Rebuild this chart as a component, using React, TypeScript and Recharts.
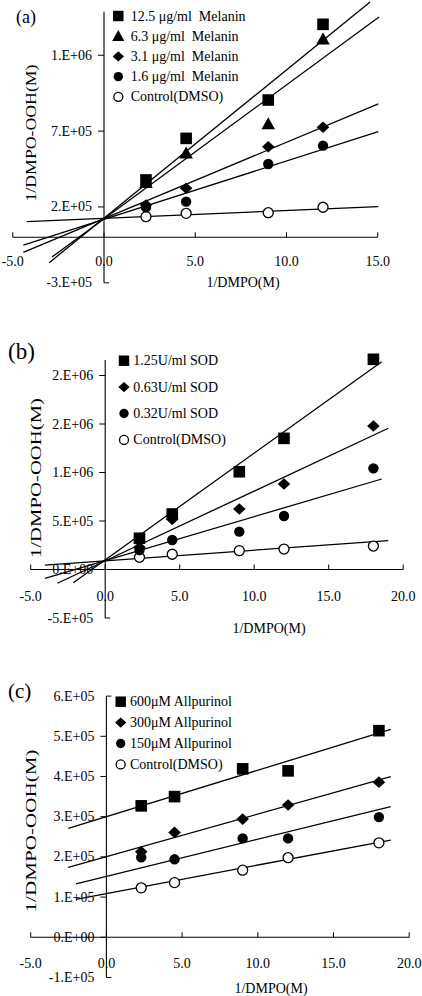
import React from 'react'
import { ComposedChart, XAxis, YAxis, Scatter, Line, ReferenceLine } from 'recharts'

const W = 422
const SERIF = '"Liberation Serif", "Times New Roman", Times, serif'
// room the (invisible) axes take; the drawn axes cross at zero instead
const AXIS_W = 8
const AXIS_H = 8

// ---------- (a) melanin ----------
const dmpoA = [2.3, 4.5, 9.0, 12.0]
const melanin125 = [0.378e6, 0.652e6, 0.905e6, 1.404e6]
const melanin63 = [0.36e6, 0.554e6, 0.747e6, 1.305e6]
const melanin31 = [0.213e6, 0.323e6, 0.597e6, 0.725e6]
const melanin16 = [0.198e6, 0.235e6, 0.483e6, 0.604e6]
const controlA = [0.136e6, 0.158e6, 0.162e6, 0.198e6]
const namesA = ['12.5 μg/ml  Melanin', '6.3 μg/ml  Melanin', '3.1 μg/ml  Melanin', '1.6 μg/ml  Melanin', 'Control(DMSO)']
// fit lines, end points
const fitA: number[][][] = [
  [[-3.0, -0.167e6], [14.58, 1.551e6]],
  [[-2.85, -0.13e6], [15.07, 1.452e6]],
  [[-4.42, -0.099e6], [15.03, 0.879e6]],
  [[-4.42, -0.051e6], [15.03, 0.696e6]],
  [[-4.24, 0.103e6], [15.03, 0.202e6]],
]
const xTicksA = [-5, 0, 5, 10, 15]
const yTicksA = [-3e5, 2e5, 7e5, 1.2e6]

// ---------- (b) SOD ----------
const dmpoB = [2.3, 4.5, 9.0, 12.0, 18.0]
const sod125 = [0.322e6, 0.572e6, 1.008e6, 1.352e6, 2.167e6]
const sod063 = [0.23e6, 0.517e6, 0.624e6, 0.881e6, 1.479e6]
const sod032 = [0.201e6, 0.304e6, 0.39e6, 0.552e6, 1.043e6]
const controlB = [0.126e6, 0.157e6, 0.194e6, 0.211e6, 0.242e6]
const namesB = ['1.25U/ml SOD', '0.63U/ml SOD', '0.32U/ml SOD', 'Control(DMSO)']
const fitB: number[][][] = [
  [[-2.14, -0.136e6], [18.56, 2.142e6]],
  [[-3.21, -0.142e6], [19.0, 1.456e6]],
  [[-4.04, -0.091e6], [18.56, 0.933e6]],
  [[-4.04, 0.046e6], [19.0, 0.297e6]],
]
const xTicksB = [-5, 0, 5, 10, 15, 20]
const yTicksB = [-5e5, 0, 5e5, 1e6, 1.5e6, 2e6]

// ---------- (c) allopurinol ----------
const dmpoC = [2.3, 4.5, 9.0, 12.0, 18.0]
const allo600 = [3.27e5, 3.5e5, 4.19e5, 4.14e5, 5.14e5]
const allo300 = [2.13e5, 2.61e5, 2.94e5, 3.29e5, 3.86e5]
const allo150 = [1.99e5, 1.94e5, 2.46e5, 2.46e5, 2.99e5]
const controlC = [1.23e5, 1.36e5, 1.67e5, 1.98e5, 2.35e5]
const namesC = ['600μM Allpurinol', '300μM Allpurinol', '150μM Allpurinol', 'Control(DMSO)']
const fitC: number[][][] = [
  [[-2.52, 2.71e5], [18.78, 5.17e5]],
  [[-2.52, 1.74e5], [18.78, 3.995e5]],
  [[-2.01, 1.33e5], [18.78, 3.25e5]],
  [[-2.01, 0.945e5], [18.78, 2.42e5]],
]
const xTicksC = [-5, 0, 5, 10, 15, 20]
const yTicksC = [-1e5, 0, 1e5, 2e5, 3e5, 4e5, 5e5, 6e5]

type Shape = 'square' | 'triangle' | 'diamond' | 'dot' | 'ring'

// Excel style "0.E+00"
const fmtSci = (v: number) => {
  const [m, e] = v.toExponential(0).split('e')
  const n = Number(e)
  return `${m}.E${n < 0 ? '-' : '+'}${String(Math.abs(n)).padStart(2, '0')}`
}

const Marker = ({ cx, cy, shape, s = 1 }: { cx: number; cy: number; shape: Shape; s?: number }) => {
  if (shape === 'square')
    return <rect x={cx - 5.8 * s} y={cy - 5.8 * s} width={11.6 * s} height={11.6 * s} fill="#000" />
  if (shape === 'triangle')
    return <polygon points={`${cx},${cy - 6.8 * s} ${cx + 6.8 * s},${cy + 5.2 * s} ${cx - 6.8 * s},${cy + 5.2 * s}`} fill="#000" />
  if (shape === 'diamond')
    return <polygon points={`${cx},${cy - 5.8 * s} ${cx + 6.3 * s},${cy} ${cx},${cy + 5.8 * s} ${cx - 6.3 * s},${cy}`} fill="#000" />
  if (shape === 'dot') return <circle cx={cx} cy={cy} r={5.2 * s} fill="#000" />
  return <circle cx={cx} cy={cy} r={5 * s} fill="#fff" stroke="#000" strokeWidth={1.3} />
}

interface PanelSpec {
  letter: string
  top: number
  height: number
  x0: number // pixel of x = 0
  pxX: number // px per x unit
  y0: number // pixel of y = 0
  pxY: number // px per y unit
  xAxis: number[]
  yAxis: number[]
  xTicks: number[]
  yTicks: number[]
  xLabelDy: number
  dmpo: number[]
  values: number[][]
  shapes: Shape[]
  names: string[]
  fits: number[][][]
  letterPos: { x: number; y: number; size: number }
  legend: { x: number; y: number; gap: number; tx: number; s: number }
  xTitle: { x: number; y: number }
  yTitle: { x: number; y: number; len: number }
}

const panels: PanelSpec[] = [
  {
    letter: '(a)', top: 0, height: 300, x0: 104, pxX: 18.25, y0: 237.3, pxY: 151.7e-6,
    xAxis: [-5, 15], yAxis: [-3e5, 1.486e6], xTicks: xTicksA, yTicks: yTicksA, xLabelDy: 24.4,
    dmpo: dmpoA, values: [melanin125, melanin63, melanin31, melanin16, controlA],
    shapes: ['square', 'triangle', 'diamond', 'dot', 'ring'], names: namesA, fits: fitA,
    letterPos: { x: 16, y: 16.5, size: 18 },
    legend: { x: 118.3, y: 16, gap: 20.2, tx: 130.7, s: 0.9 },
    xTitle: { x: 243, y: 282.7 },
    yTitle: { x: 31.5, y: 133, len: 137 },
  },
  {
    letter: '(b)', top: 310, height: 340, x0: 105.2, pxX: 14.9, y0: 259.5, pxY: 97e-6,
    xAxis: [-5, 20], yAxis: [-5e5, 2.16e6], xTicks: xTicksB, yTicks: yTicksB, xLabelDy: 26.5,
    dmpo: dmpoB, values: [sod125, sod063, sod032, controlB],
    shapes: ['square', 'diamond', 'dot', 'ring'], names: namesB, fits: fitB,
    letterPos: { x: 8, y: 41, size: 23 },
    legend: { x: 124, y: 50.7, gap: 26.4, tx: 133.3, s: 0.9 },
    xTitle: { x: 269, y: 318 },
    yTitle: { x: 36, y: 168, len: 160 },
  },
  {
    letter: '(c)', top: 650, height: 346, x0: 106.4, pxX: 15.14, y0: 287.3, pxY: 40.2e-5,
    xAxis: [-5, 20], yAxis: [-1e5, 6e5], xTicks: xTicksC, yTicks: yTicksC, xLabelDy: 26,
    dmpo: dmpoC, values: [allo600, allo300, allo150, controlC],
    shapes: ['square', 'diamond', 'dot', 'ring'], names: namesC, fits: fitC,
    letterPos: { x: 8, y: 41, size: 21 },
    legend: { x: 120.7, y: 51.7, gap: 20.9, tx: 130, s: 0.9 },
    xTitle: { x: 271, y: 338 },
    yTitle: { x: 31.5, y: 181, len: 163 },
  },
]

const Panel = ({ p }: { p: PanelSpec }) => {
  // plot area runs from AXIS_W to W and from 0 to height - AXIS_H
  const xDomain = [(AXIS_W - p.x0) / p.pxX, (W - p.x0) / p.pxX]
  const yDomain = [-(p.height - AXIS_H - p.y0) / p.pxY, p.y0 / p.pxY]

  const xTick = (props: any) => {
    const { x, payload } = props
    return (
      <g>
        <line x1={x} x2={x} y1={p.y0} y2={p.y0 - 5} stroke="#000" strokeWidth={1} />
        <text x={x} y={p.y0 + p.xLabelDy} textAnchor="middle" dominantBaseline="central"
          fontFamily={SERIF} fontSize={14} fill="#000">
          {Number(payload.value).toFixed(1)}
        </text>
      </g>
    )
  }

  const yTick = (props: any) => {
    const { y, payload } = props
    const v = Number(payload.value)
    // end ticks point inward, the rest point outward
    const inward = v === p.yAxis[0] || v === p.yAxis[1]
    return (
      <g>
        <line x1={p.x0} x2={inward ? p.x0 + 5 : p.x0 - 6} y1={y} y2={y} stroke="#000" strokeWidth={1} />
        <text x={p.x0 - 12} y={y} textAnchor="end" dominantBaseline="central"
          fontFamily={SERIF} fontSize={14} fill="#000">
          {fmtSci(v)}
        </text>
      </g>
    )
  }

  const drawOrder = p.values.map((_, i) => i).reverse()

  return (
    <div style={{ position: 'absolute', left: 0, top: p.top, width: W, height: p.height }}>
      <ComposedChart width={W} height={p.height} margin={{ top: 0, right: 0, bottom: 0, left: 0 }}>
        <XAxis type="number" dataKey="x" domain={xDomain} allowDataOverflow ticks={p.xTicks} interval={0}
          height={AXIS_H} axisLine={false} tickLine={false} tick={xTick} />
        <YAxis type="number" dataKey="y" domain={yDomain} allowDataOverflow ticks={p.yTicks} interval={0}
          width={AXIS_W} axisLine={false} tickLine={false} tick={yTick} />
        <ReferenceLine segment={[{ x: p.xAxis[0], y: 0 }, { x: p.xAxis[1], y: 0 }]} stroke="#000" strokeWidth={1.1} />
        <ReferenceLine segment={[{ x: 0, y: p.yAxis[0] }, { x: 0, y: p.yAxis[1] }]} stroke="#000" strokeWidth={1.1} />
        {p.fits.map((f, i) => (
          <Line key={`fit-${i}`} data={f.map(([x, y]) => ({ x, y }))} dataKey="y" stroke="#000"
            strokeWidth={1.3} dot={false} activeDot={false} legendType="none" isAnimationActive={false} />
        ))}
        {drawOrder.map((i) => (
          <Scatter key={p.names[i]} name={p.names[i]}
            data={p.dmpo.map((x, j) => ({ x, y: p.values[i][j] }))}
            shape={(sp: any) => <Marker cx={sp.cx} cy={sp.cy} shape={p.shapes[i]} />}
            isAnimationActive={false} />
        ))}
      </ComposedChart>

      <svg width={W} height={p.height} style={{ position: 'absolute', left: 0, top: 0, pointerEvents: 'none' }}
        fontFamily={SERIF} fill="#000">
        <text x={p.letterPos.x} y={p.letterPos.y} dominantBaseline="central" fontSize={p.letterPos.size}>
          {p.letter}
        </text>
        {p.names.map((n, i) => (
          <g key={n}>
            <Marker cx={p.legend.x} cy={p.legend.y + i * p.legend.gap} shape={p.shapes[i]} s={p.legend.s} />
            <text x={p.legend.tx} y={p.legend.y + i * p.legend.gap} dominantBaseline="central" fontSize={14}
              style={{ whiteSpace: 'pre' }}>
              {n}
            </text>
          </g>
        ))}
        <text x={p.xTitle.x} y={p.xTitle.y} textAnchor="middle" dominantBaseline="central" fontSize={14}>
          1/DMPO(M)
        </text>
        <text transform={`translate(${p.yTitle.x},${p.yTitle.y}) rotate(-90)`} textAnchor="middle"
          dominantBaseline="central" fontSize={14} textLength={p.yTitle.len} lengthAdjust="spacingAndGlyphs">
          1/DMPO-OOH(M)
        </text>
      </svg>
    </div>
  )
}

export default function App() {
  return (
    <div style={{ position: 'absolute', left: 0, top: 0, width: W, height: 996, background: '#fff' }}>
      {panels.map((p) => (
        <Panel key={p.letter} p={p} />
      ))}
    </div>
  )
}
